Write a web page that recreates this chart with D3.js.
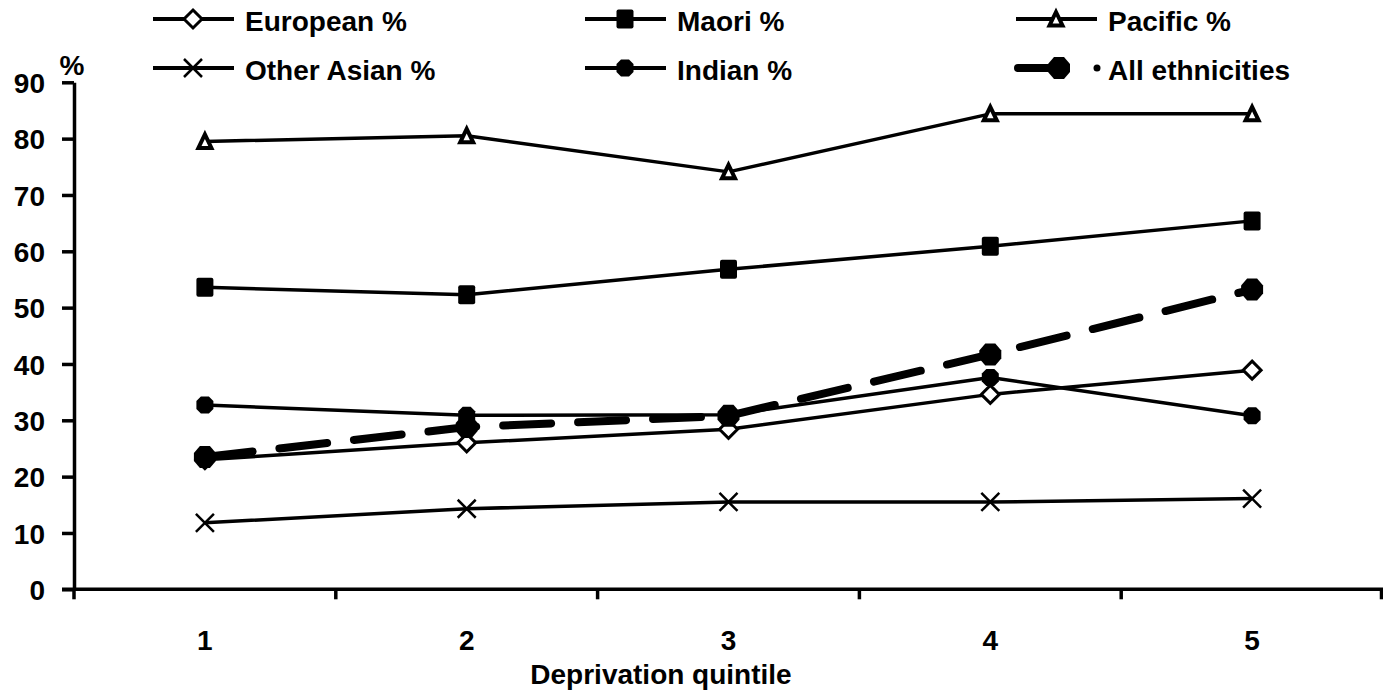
<!DOCTYPE html>
<html>
<head>
<meta charset="utf-8">
<script src="https://cdn.jsdelivr.net/npm/d3@7/dist/d3.min.js"></script>
<style>
  html, body { margin: 0; padding: 0; background: #fff; }
  svg { display: block; }
  text { font-family: "Liberation Sans", Arial, sans-serif; font-weight: bold; fill: #000; }
</style>
</head>
<body>
<svg id="chart" width="1383" height="691"></svg>
<script>
// ---- Data ----
const categories = ["1", "2", "3", "4", "5"];
const european   = [23.0, 26.0, 28.4, 34.6, 38.9];
const maori      = [53.6, 52.3, 56.8, 60.9, 65.4];
const pacific    = [79.5, 80.5, 74.1, 84.4, 84.4];
const otherAsian = [11.8, 14.3, 15.5, 15.5, 16.1];
const indian     = [32.7, 30.9, 31.0, 37.6, 30.8];
const allEth     = [23.5, 28.8, 30.8, 41.7, 53.2];
const yTicks = [0, 10, 20, 30, 40, 50, 60, 70, 80, 90];
const seriesNames = ["European %", "Maori %", "Pacific %", "Other Asian %", "Indian %", "All ethnicities"];

// ---- Layout ----
const svg = d3.select("#chart");
const plotLeft = 74, plotRight = 1383, plotTop = 82.3, plotBottom = 589.3;
const fontSize = "28px";

const x = d3.scaleBand().domain(categories).range([plotLeft, plotRight]).paddingInner(0).paddingOuter(0);
const cx = d => x(d) + x.bandwidth() / 2;
const y = d3.scaleLinear().domain([0, 90]).range([plotBottom, plotTop]);

// ---- Marker shapes ----
const markers = {
  diamond: g => g.append("path").attr("d", "M0,-9L9,0L0,9L-9,0Z")
      .attr("fill", "#fff").attr("stroke", "#000").attr("stroke-width", 3),
  square: g => g.append("rect").attr("x", -8.5).attr("y", -9.5).attr("width", 17).attr("height", 19).attr("rx", 2)
      .attr("fill", "#000"),
  triangle: g => g.append("path").attr("d", "M0,-7L6.5,6.5L-6.5,6.5Z")
      .attr("fill", "#fff").attr("stroke", "#000").attr("stroke-width", 4).attr("stroke-linejoin", "miter"),
  cross: g => g.append("path").attr("d", "M-9,-9L9,9M-9,9L9,-9")
      .attr("fill", "none").attr("stroke", "#000").attr("stroke-width", 2.5),
  dot: g => g.append("path").attr("d", "M-4,-8.5L4,-8.5L8.5,-4L8.5,4L4,8.5L-4,8.5L-8.5,4L-8.5,-4Z")
      .attr("fill", "#000"),
  bigdot: g => g.append("path").attr("d", "M-5,-11L5,-11L11,-4L11,4L5,11L-5,11L-11,4L-11,-4Z")
      .attr("fill", "#000")
};

const series = [
  { name: seriesNames[0], values: european,   marker: "diamond",  dashed: false },
  { name: seriesNames[1], values: maori,      marker: "square",   dashed: false },
  { name: seriesNames[2], values: pacific,    marker: "triangle", dashed: false },
  { name: seriesNames[3], values: otherAsian, marker: "cross",    dashed: false },
  { name: seriesNames[4], values: indian,     marker: "dot",      dashed: false },
  { name: seriesNames[5], values: allEth,     marker: "bigdot",   dashed: true }
];

// ---- Axes ----
const yAxis = d3.axisLeft(y).tickValues(yTicks).tickSize(12).tickSizeOuter(0).tickFormat(d3.format("d"));
const gy = svg.append("g").attr("transform", `translate(${plotLeft},0)`).call(yAxis);
gy.select(".domain").attr("stroke", "#000").attr("stroke-width", 3.5);
gy.selectAll(".tick line").attr("stroke", "#000").attr("stroke-width", 3.5);
gy.selectAll(".tick text").attr("x", -29).attr("dy", "0.36em")
  .style("font-size", fontSize).style("font-family", "'Liberation Sans', Arial, sans-serif").style("font-weight", "bold");

// x axis line with boundary ticks
const xBounds = categories.map(c => x(c)).concat([plotRight - 1.5]);
svg.append("line").attr("x1", plotLeft - 12).attr("x2", plotRight).attr("y1", plotBottom).attr("y2", plotBottom)
  .attr("stroke", "#000").attr("stroke-width", 3.5);
svg.append("g").selectAll("line").data(xBounds).join("line")
  .attr("x1", d => d).attr("x2", d => d).attr("y1", plotBottom).attr("y2", plotBottom + 10)
  .attr("stroke", "#000").attr("stroke-width", 3.5);
svg.append("g").selectAll("text").data(categories).join("text")
  .attr("x", d => cx(d)).attr("y", 650).attr("text-anchor", "middle")
  .style("font-size", fontSize).text(d => d);

// axis titles
svg.append("text").attr("x", 661).attr("y", 684).attr("text-anchor", "middle")
  .style("font-size", fontSize).text("Deprivation quintile");
svg.append("text").attr("x", 72).attr("y", 75).attr("text-anchor", "middle")
  .style("font-size", fontSize).text("%");

// ---- Lines ----
const line = d3.line().x((d, i) => cx(categories[i])).y(d => y(d));
series.forEach(s => {
  svg.append("path").datum(s.values)
    .attr("d", line)
    .attr("fill", "none")
    .attr("stroke", "#000")
    .attr("stroke-width", s.dashed ? 8 : 3.5)
    .attr("stroke-dasharray", s.dashed ? "48 27" : null)
    .attr("stroke-linecap", s.dashed ? "round" : "butt")
    .attr("stroke-linejoin", "round");
  s.values.forEach((v, i) => {
    const g = svg.append("g").attr("transform", `translate(${cx(categories[i])},${y(v)})`);
    markers[s.marker](g);
  });
});

// ---- Legend ----
const legCols = [153, 585, 1016];
const legRows = [19, 68];
const legText = [31, 80];
series.forEach((s, i) => {
  const col = i % 3, row = Math.floor(i / 3);
  const x0 = legCols[col];
  const ly = legRows[row];
  if (!s.dashed) {
    svg.append("line").attr("x1", x0).attr("x2", x0 + 81).attr("y1", ly).attr("y2", ly)
      .attr("stroke", "#000").attr("stroke-width", 4);
    const g = svg.append("g").attr("transform", `translate(${x0 + 40},${ly})`);
    markers[s.marker](g);
  } else {
    svg.append("line").attr("x1", x0 + 2).attr("x2", x0 + 50).attr("y1", ly).attr("y2", ly)
      .attr("stroke", "#000").attr("stroke-width", 8).attr("stroke-linecap", "round");
    const g = svg.append("g").attr("transform", `translate(${x0 + 43},${ly})`);
    markers[s.marker](g);
    svg.append("circle").attr("cx", x0 + 81).attr("cy", ly).attr("r", 3.5).attr("fill", "#000");
  }
  svg.append("text").attr("x", x0 + 92).attr("y", legText[row])
    .style("font-size", fontSize).text(s.name);
});
</script>
</body>
</html>
